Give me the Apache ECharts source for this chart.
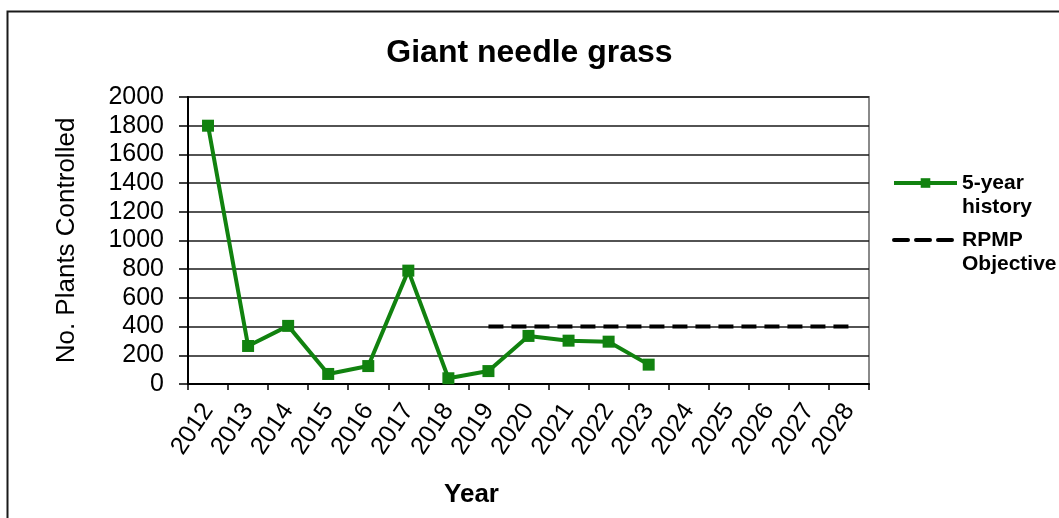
<!DOCTYPE html>
<html>
<head>
<meta charset="utf-8">
<title>Giant needle grass</title>
<script src="https://cdn.jsdelivr.net/npm/echarts@6/dist/echarts.min.js"></script>
<style>
  html, body { margin: 0; padding: 0; background: #fff; }
  #chart { width: 1059px; height: 518px; }
</style>
</head>
<body>
<div id="chart"></div>
<script>
// values
const years = ["2012", "2013", "2014", "2015", "2016", "2017", "2018", "2019", "2020",
  "2021", "2022", "2023", "2024", "2025", "2026", "2027", "2028"];
const history = [1800, 265, 405, 70, 125, 790, 40, 90, 335, 302, 295, 135];
const rpmpObjective = [null, null, null, null, null, null, null,
  400, 400, 400, 400, 400, 400, 400, 400, 400, 400];

const green = "#11820f";
const font = "Liberation Sans, Arial, sans-serif";

var chart = echarts.init(document.getElementById("chart"));

// legend text: empty first line so the icon sits on the first real line
const legendText = {
  fontSize: 21, fontWeight: "bold", color: "#000", fontFamily: font, lineHeight: 24,
};

var option = {
  animation: false,
  backgroundColor: "#fff",
  textStyle: { fontFamily: font },
  title: {
    text: "Giant needle grass",
    left: "center",
    top: 32,
    textStyle: { fontSize: 32, fontWeight: "bold", color: "#000", fontFamily: font },
  },
  graphic: [
    {
      type: "rect",
      shape: { x: 7.5, y: 11.5, width: 1100, height: 600 },
      style: { fill: null, stroke: "#1a1a1a", lineWidth: 2 },
      silent: true,
    },
  ],
  legend: [
    {
      data: ["5-year history"],
      orient: "vertical",
      left: 892,
      top: 147,
      padding: 0,
      itemWidth: 63,
      itemHeight: 12,
      itemGap: 3,
      formatter: () => "\n5-year\nhistory",
      textStyle: legendText,
      lineStyle: { width: 4 },
    },
    {
      data: ["RPMP Objective"],
      orient: "vertical",
      left: 892,
      top: 204,
      padding: 0,
      itemWidth: 63,
      itemHeight: 12,
      formatter: () => "\nRPMP\nObjective",
      textStyle: legendText,
      itemStyle: { opacity: 0 },
      lineStyle: { width: 4, type: [14, 8], cap: "round", color: "#000" },
    },
  ],
  grid: {
    left: 188,
    right: 190,
    top: 97,
    bottom: 134,
    show: true,
    borderColor: "#8a8a8a",
    borderWidth: 2,
    backgroundColor: "#fff",
  },
  xAxis: {
    type: "category",
    data: years,
    boundaryGap: true,
    name: "Year",
    nameLocation: "middle",
    nameGap: 98,
    nameTextStyle: {
      fontSize: 26, fontWeight: "bold", color: "#000", fontFamily: font,
      padding: [0, 114, 0, 0],
    },
    axisLine: { lineStyle: { color: "#000", width: 2 } },
    axisTick: { show: true, length: 6, lineStyle: { color: "#000", width: 1.5 } },
    axisLabel: {
      rotate: 56,
      fontSize: 25,
      color: "#000",
      margin: 22,
      interval: 0,
      fontFamily: font,
    },
    splitLine: { show: false },
  },
  yAxis: {
    type: "value",
    min: 0,
    max: 2000,
    interval: 200,
    name: "No. Plants Controlled",
    nameLocation: "middle",
    nameGap: 108,
    nameTextStyle: { fontSize: 26, color: "#000", fontFamily: font },
    axisLine: { show: true, lineStyle: { color: "#000", width: 2 } },
    axisTick: { show: true, length: 9, lineStyle: { color: "#000", width: 1.5 } },
    axisLabel: {
      fontSize: 25, color: "#000", margin: 24, fontFamily: font,
      formatter: (v) => String(v),
    },
    splitLine: { show: true, lineStyle: { color: "#1a1a1a", width: 1.5 } },
  },
  series: [
    {
      name: "5-year history",
      type: "line",
      data: history,
      symbol: "rect",
      symbolSize: 12,
      itemStyle: { color: green },
      lineStyle: { color: green, width: 4 },
      z: 3,
    },
    {
      name: "RPMP Objective",
      type: "line",
      data: rpmpObjective,
      symbol: "none",
      connectNulls: false,
      itemStyle: { color: "#000" },
      lineStyle: { color: "#000", width: 4, type: [15, 8] },
      z: 2,
    },
  ],
};

option && chart.setOption(option);
</script>
</body>
</html>
